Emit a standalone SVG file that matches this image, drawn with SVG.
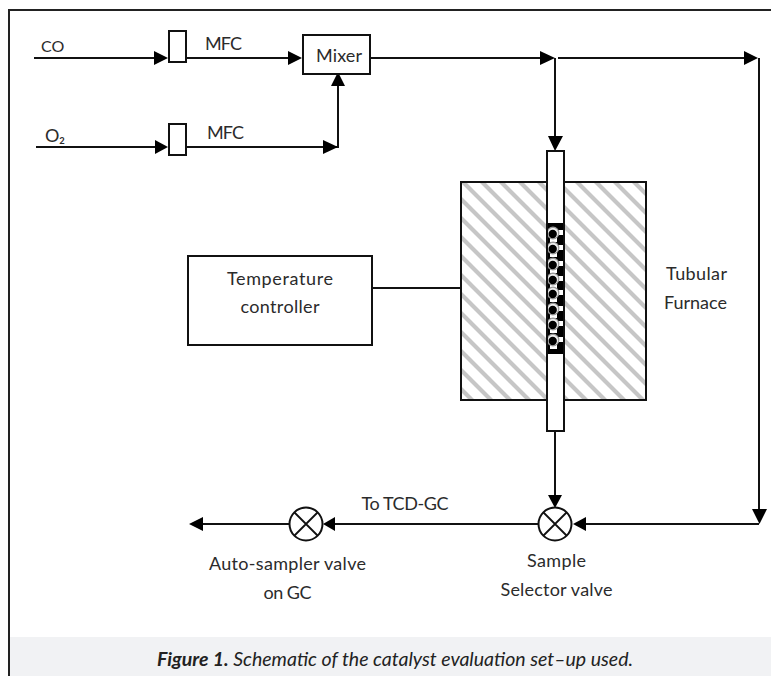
<svg xmlns="http://www.w3.org/2000/svg" width="771" height="676" viewBox="0 0 771 676">
<style>
text{font-family:"Lato","Liberation Sans",sans-serif;font-size:18px;fill:#2b2b2b}
.m{text-anchor:middle}
.b{fill:#fff;stroke:#111;stroke-width:2}
.l{fill:none;stroke:#111;stroke-width:2}
.t{fill:none;stroke:#111;stroke-width:1.800}
.a{fill:#000}
.cap{font-size:19.500px;font-style:italic;fill:#222}
</style>
<defs>
<pattern id="hatch" width="19" height="19" patternUnits="userSpaceOnUse" patternTransform="translate(15 0)">
<rect width="19" height="19" fill="#fff"/>
<path d="M-5 -5L24 24M-5 14L5 24M14 -5L24 5" stroke="#c6c6c6" stroke-width="4.200"/>
</pattern>
<g id="ball">
<rect x="5.500" y="-3" width="5" height="5" fill="#fff"/>
<rect x="-3" y="4.500" width="7" height="4.500" fill="#fff"/>
<circle r="5.800" fill="#eee" stroke="#999" stroke-width="1.200"/>
<circle cx="-0.300" cy="1" r="4.200" fill="#000"/>
</g>
</defs>
<rect width="771" height="676" fill="#fff"/>
<rect x="10" y="637" width="761" height="39" fill="#f1f2f4"/>
<path d="M771 10H9V676" fill="none" stroke="#222" stroke-width="2"/>
<g id="connectors">
<path class="l" d="M34 58H160M185 58H295"/>
<path class="a" d="M168 58L154 51V65Z"/>
<path class="a" d="M302 58L288 51V65Z"/>
<path class="l" d="M36 147H160M186 147H338V80"/>
<path class="a" d="M168 147L155 140V154Z"/>
<path class="a" d="M338 147L323 140V154Z"/>
<path class="a" d="M338 72L331 86H345Z"/>
<path class="l" d="M370 58H548M558 58H750M759 58V515"/>
<path class="a" d="M555 58L540 51V65Z"/>
<path class="a" d="M758 58L744 51V65Z"/>
<path class="l" d="M555 58V140"/>
<path class="a" d="M555 151L548 136H563Z"/>
<path class="l" d="M555 431V500"/>
<path class="a" d="M555 508L548 495H562Z"/>
<path class="a" d="M759.500 524L752 509H767Z"/>
<path class="l" d="M759 524H580"/>
<path class="a" d="M573 524L586 517V531Z"/>
<path class="l" d="M539 524H330"/>
<path class="a" d="M323 524L335 517V531Z"/>
<path class="l" d="M290 524H198"/>
<path class="a" d="M189 524L203 517V531Z"/>
<path class="t" d="M372 288H460"/>
</g>
<g id="mfc-co"><rect class="b" x="169" y="31" width="17" height="31"/></g>
<g id="mfc-o2"><rect class="b" x="169" y="124" width="17" height="31"/></g>
<g id="mixer"><rect class="b" x="303" y="35" width="67" height="39"/><text class="m" x="339" y="62" textLength="46">Mixer</text></g>
<g id="controller"><rect class="b" x="188" y="256" width="184" height="89"/><text class="m" x="280" y="285" textLength="106">Temperature</text><text class="m" x="280" y="313" textLength="79">controller</text></g>
<g id="furnace"><rect x="461" y="182" width="185" height="218" fill="url(#hatch)" stroke="#111" stroke-width="2"/></g>
<g id="tube">
<rect class="b" x="547" y="151" width="17" height="280"/>
<rect x="547" y="223" width="17" height="131" fill="#000"/>
<use href="#ball" x="553" y="233"/><use href="#ball" x="553" y="248"/><use href="#ball" x="553" y="264"/><use href="#ball" x="553" y="279"/>
<use href="#ball" x="553" y="293"/><use href="#ball" x="553" y="309"/><use href="#ball" x="553" y="324"/><use href="#ball" x="553" y="340"/>
<rect x="547" y="151" width="17" height="280" fill="none" stroke="#111" stroke-width="2"/>
</g>
<g id="selector-valve"><circle class="b" cx="555" cy="524" r="16.500"/><path class="t" d="M543.500 512.500L566.500 535.500M566.500 512.500L543.500 535.500"/></g>
<g id="autosampler-valve"><circle class="b" cx="306" cy="524" r="16.500"/><path class="t" d="M294.500 512.500L317.500 535.500M317.500 512.500L294.500 535.500"/></g>
<g id="labels">
<text x="41" y="52" style="font-size:16px">CO</text>
<text x="205" y="50" textLength="37">MFC</text>
<text x="45" y="142" textLength="20">O₂</text>
<text x="207" y="139" textLength="37">MFC</text>
<text x="666" y="280" textLength="61">Tubular</text>
<text x="664" y="309" textLength="63">Furnace</text>
<text class="m" x="405" y="510" textLength="87">To TCD-GC</text>
<text class="m" x="287.500" y="570" textLength="157">Auto-sampler valve</text>
<text class="m" x="287.500" y="599" textLength="48">on GC</text>
<text class="m" x="556.500" y="567" textLength="59">Sample</text>
<text class="m" x="556.500" y="596" textLength="112">Selector valve</text>
<text class="cap m" x="395" y="666"><tspan font-weight="700">Figure 1.</tspan> Schematic of the catalyst evaluation set–up used.</text>
</g>
</svg>
